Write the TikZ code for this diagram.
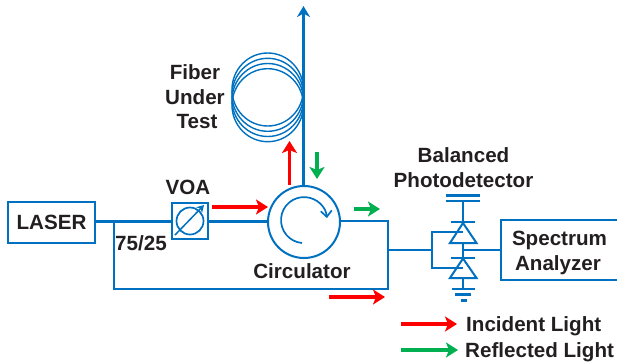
\documentclass[tikz,border=0pt]{standalone}
\usepackage{fontspec}
\setmainfont{Liberation Sans}
\usetikzlibrary{arrows.meta}
\definecolor{fib}{HTML}{0070C0}
\definecolor{txt}{HTML}{231F20}
\definecolor{sigred}{HTML}{FF0000}
\definecolor{siggreen}{HTML}{00B050}
\tikzset{
  x=1pt,y=-1pt,
  lbl/.style={font=\fontsize{20.6}{22}\selectfont\bfseries,text=txt,inner sep=0pt},
  box/.style={draw=fib,line width=2pt,inner sep=0pt,anchor=north west},
  thick fibre/.style={draw=fib,line width=3pt},
  thin fibre/.style={draw=fib,line width=2.2pt},
  coil/.style={draw=fib,line width=1.4pt},
  redarrow/.style={draw=sigred,line width=3.3pt,-{Stealth[length=12pt,width=15pt,inset=3pt]}},
  greenarrow/.style={draw=siggreen,line width=3.3pt,-{Stealth[length=12pt,width=15pt,inset=3pt]}},
  diode/.style={draw=fib,line width=2pt,line join=miter},
  plate/.style={draw=fib,line width=2.4pt},
}
\begin{document}
\begin{tikzpicture}
\useasboundingbox (0,0) rectangle (617,362);
\clip (0,0) rectangle (617,362);

% components
\node[box,minimum width=87pt,minimum height=41pt] (laser) at (7,201) {};
\node[lbl] at (laser.center) {LASER};
\node[box,minimum width=36pt,minimum height=36pt] (voa) at (171,202) {};
\node[draw=fib,line width=1.7pt,circle,minimum size=27pt,inner sep=0pt] (voacirc) at (voa.center) {};
\node[draw=fib,line width=2pt,circle,minimum size=72pt,inner sep=0pt] (circ) at (304,222) {};
\node[box,minimum width=130pt,minimum height=60pt] (sa) at (500,219) {};

% coordinates
\coordinate (split) at (114,221);
\coordinate (voaL) at (171,221);
\coordinate (voaR) at (207,221);
\coordinate (circL) at (268,221);
\coordinate (circR) at (340,221);
\coordinate (cornerTR) at (388,221);
\coordinate (cornerBR) at (388,289);
\coordinate (cornerBL) at (114,289);
\coordinate (pdIn) at (388,250);
\coordinate (pdJ) at (432,250);
\coordinate (pdT) at (432,232);
\coordinate (pdB) at (432,268);
\coordinate (dTmid) at (463,232);
\coordinate (dBmid) at (463,268);
\coordinate (dMid) at (463,250);
\coordinate (saIn) at (500,250);
\coordinate (fibTop) at (303.5,6);
\coordinate (fibBot) at (303.5,186);

% fibres
\draw[thick fibre] (laser.east |- split) -- (voaL);
\draw[thick fibre] (voaR) -- (circL);
\draw[thin fibre,line join=miter] (circR) -- (cornerTR) -- (cornerBR) -- (cornerBL) -- (split);
\draw[thick fibre,-{Stealth[length=11pt,width=13pt,inset=3.5pt]}] (fibBot) -- (fibTop);

% fibre coil
\foreach \cy in {89.5,94.8,100,105.2}
  \draw[coil] (267.7,\cy) ellipse [x radius=35.7pt,y radius=36.5pt];

% VOA arrow
\coordinate (voaA) at (175,235);
\coordinate (voaB) at (204,205);
\draw[draw=fib,line width=1.5pt,-{Stealth[length=7pt,width=8pt,inset=2pt]}] (voaA) -- (voaB);

% circulator inner arrow
\draw[draw=fib,line width=1.7pt,-{Straight Barb[length=6pt,width=11pt]}]
  (302,243) arc[start angle=95,end angle=355,x radius=23pt,y radius=-23pt];

% balanced detector
\draw[thin fibre] (pdIn) -- (pdJ);
\draw[thin fibre,line join=miter] (dTmid) -- (pdT) -- (pdB) -- (dBmid);
\draw[thin fibre] (dMid) -- (saIn);
\coordinate (capA) at (463,201);
\coordinate (d1a) at (463,223);
\coordinate (d1b) at (463,258);
\coordinate (d2b) at (463,289);
\draw[thin fibre] (capA) -- (d1a);
\draw[thin fibre] (463,243) -- (d1b);
\draw[thin fibre] (463,278) -- (d2b);
\draw[plate] (446,195.5) -- (480,195.5);
\draw[plate] (446,201) -- (480,201);
\draw[diode] (451,222) -- (475,222);
\draw[diode] (463,223) -- (450,243) -- (476.5,243) -- cycle;
\draw[diode] (451,258) -- (475,258);
\draw[diode] (463,258.5) -- (450,278) -- (476.5,278) -- cycle;
\draw[plate] (452,289) -- (475,289);
\draw[plate] (455,294.5) -- (471,294.5);
\draw[draw=fib,line width=3pt] (460.5,300) -- (466.5,300);

% signal arrows
\coordinate (r1a) at (289.5,185); \coordinate (r1b) at (289.5,141);
\coordinate (g1a) at (317,152);   \coordinate (g1b) at (317,179);
\coordinate (r2a) at (212,207);   \coordinate (r2b) at (268,207);
\coordinate (g2a) at (354,209);   \coordinate (g2b) at (380,209);
\coordinate (r3a) at (329,297);   \coordinate (r3b) at (385,297);
\coordinate (r4a) at (401,324);   \coordinate (r4b) at (457,324);
\coordinate (g4a) at (401,350);   \coordinate (g4b) at (458,350);
\draw[redarrow] (r1a) -- (r1b);
\draw[greenarrow] (g1a) -- (g1b);
\draw[redarrow] (r2a) -- (r2b);
\draw[greenarrow] (g2a) -- (g2b);
\draw[redarrow] (r3a) -- (r3b);
\draw[redarrow] (r4a) -- (r4b);
\draw[greenarrow] (g4a) -- (g4b);

% labels
\node[lbl] (t1) at (195,72) {Fiber};
\node[lbl] (t2) at (195,97) {Under};
\node[lbl] (t3) at (197,122) {Test};
\node[lbl] (t4) at (188,187) {VOA};
\node[lbl] (t5) at (141,243) {75/25};
\node[lbl] (t6) at (302,271) {Circulator};
\node[lbl] (t7) at (463.5,155) {Balanced};
\node[lbl] (t8) at (463.5,180.5) {Photodetector};
\node[lbl] (t9) at (559.5,240.5) {Spectrum};
\node[lbl] (t10) at (558,265) {Analyzer};
\node[lbl,anchor=west] (t11) at (466,326.5) {Incident Light};
\node[lbl,anchor=west] (t12) at (465,352.5) {Reflected Light};
\end{tikzpicture}
\end{document}
